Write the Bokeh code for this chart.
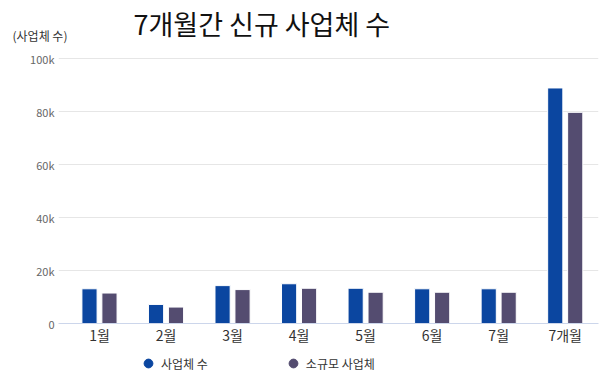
from bokeh.plotting import figure
from bokeh.layouts import column
from bokeh.models import Range1d, FixedTicker, Label, Legend, LegendItem, ColumnDataSource
from bokeh.transform import dodge
from bokeh.embed import file_html
from bokeh.resources import INLINE

months = ["1월", "2월", "3월", "4월", "5월", "6월", "7월", "7개월"]
total = [13100, 7200, 14300, 15000, 13300, 13100, 13100, 88900]
small = [11500, 6200, 12800, 13300, 11800, 11800, 11800, 79700]
y_ticks = [0, 20000, 40000, 60000, 80000, 100000]
y_tick_labels = ["0", "20k", "40k", "60k", "80k", "100k"]
series_names = ["사업체 수", "소규모 사업체"]
colors = ["#0b46a0", "#544c70"]
title_text = "7개월간 신규 사업체 수"
y_title = "(사업체 수)"

FONT = "Noto Sans CJK KR"
W = 600
LEFT, RIGHT = 58, 2

# main chart
idx = list(range(len(months)))
src = ColumnDataSource(dict(x=idx, total=total, small=small))

p = figure(width=W, height=352, output_backend="svg", toolbar_location=None,
           x_range=Range1d(-0.616, len(months) - 0.5),
           y_range=Range1d(0, 100400),
           min_border_left=LEFT, min_border_right=RIGHT, min_border_top=57, min_border_bottom=29)
p.outline_line_color = None
p.background_fill_color = "white"
p.border_fill_color = "white"

p.vbar(x=dodge("x", -0.15), top="total", width=0.228, source=src,
       fill_color=colors[0], line_color="white", line_width=1)
p.vbar(x=dodge("x", 0.15), top="small", width=0.228, source=src,
       fill_color=colors[1], line_color="white", line_width=1)

p.xaxis.ticker = FixedTicker(ticks=idx)
p.xaxis.major_label_overrides = {i: m for i, m in zip(idx, months)}
p.xaxis.major_label_text_font = FONT
p.xaxis.major_label_text_font_size = "14px"
p.xaxis.major_label_text_color = "#333333"
p.xaxis.major_label_standoff = 1
p.xaxis.axis_line_color = "#ccd6eb"
p.xaxis.major_tick_line_color = None
p.xaxis.minor_tick_line_color = None
p.xaxis.major_tick_out = 0
p.xaxis.major_tick_in = 0

p.yaxis.ticker = FixedTicker(ticks=y_ticks)
p.yaxis.major_label_overrides = {t: l for t, l in zip(y_ticks, y_tick_labels)}
p.yaxis.major_label_text_font = FONT
p.yaxis.major_label_text_font_size = "11px"
p.yaxis.major_label_text_color = "#666666"
p.yaxis.major_label_standoff = 4
p.yaxis.axis_line_color = None
p.yaxis.major_tick_line_color = None
p.yaxis.minor_tick_line_color = None
p.yaxis.major_tick_out = 0
p.yaxis.major_tick_in = 0

p.xgrid.grid_line_color = None
p.ygrid.grid_line_color = "#e6e6e6"
p.ygrid.ticker = FixedTicker(ticks=y_ticks)

# titles in the top panel
p.add_layout(Label(x=75, y=34, x_units="screen", y_units="screen", text=title_text,
                   text_font=FONT, text_font_size="27px", text_color="#111111",
                   text_baseline="middle", text_align="left"), "above")
p.add_layout(Label(x=-46, y=-17, x_units="screen", y_units="screen", text=y_title,
                   text_font=FONT, text_font_size="12px", text_color="#333333",
                   text_baseline="middle", text_align="left"), "above")

# footer with legend
footer = figure(width=W, height=22, output_backend="svg", toolbar_location=None,
                x_range=Range1d(0, 1), y_range=Range1d(0, 1),
                x_axis_location=None, y_axis_location=None,
                min_border_left=LEFT, min_border_right=RIGHT,
                min_border_top=0, min_border_bottom=0)
footer.grid.visible = False
footer.outline_line_color = None
footer.background_fill_color = "white"
footer.border_fill_color = "white"
nan = float("nan")
d1 = footer.scatter(x=[nan], y=[nan], marker="circle", size=9,
                    fill_color=colors[0], line_color=colors[0])
d2 = footer.scatter(x=[nan], y=[nan], marker="circle", size=9,
                    fill_color=colors[1], line_color=colors[1])
legend = Legend(items=[LegendItem(label=series_names[0], renderers=[d1]),
                       LegendItem(label=series_names[1], renderers=[d2])],
                location=(79, 0), orientation="horizontal",
                padding=0, margin=0, spacing=74,
                glyph_width=22, glyph_height=22, label_height=22, label_standoff=2,
                label_text_font=FONT, label_text_font_size="12px",
                label_text_color="#333333",
                border_line_color=None, background_fill_alpha=0)
footer.add_layout(legend, "center")

layout = column(p, footer, spacing=0)
open("out.html", "w").write(file_html(layout, INLINE))
